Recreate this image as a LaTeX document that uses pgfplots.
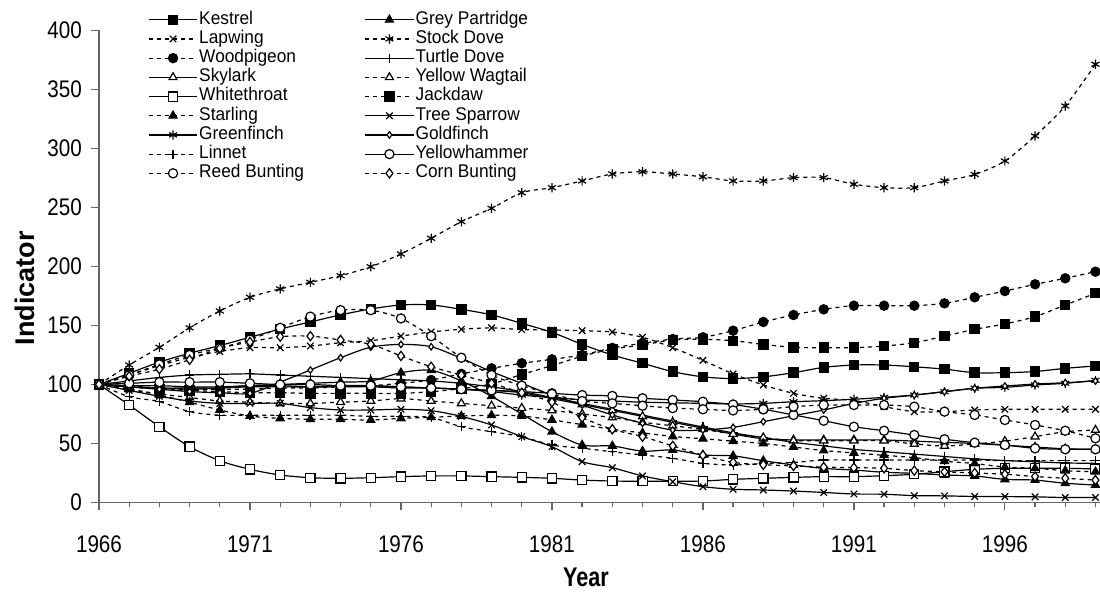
\documentclass[border=0pt]{standalone}
\usepackage{fontspec}
\setmainfont{Liberation Sans}
\usepackage{pgfplots}
\usepackage{pgfplotstable}
\pgfplotsset{compat=1.18}
\usetikzlibrary{plotmarks}

% Farmland bird indicators, 1966 = 100
\pgfplotstableread{
Year K GP La SD WP TD Sk YW WT JD St TS GF Gold Li YH RB CB
1966 100 100 100 100 100 100 100 100 100 100 100 100 100 100 100 100 100 100
1967 109.5 98 108 116.5 99 103 99 96 82.6 98 96 95 98 98 89.7 101 108 107
1968 119 97 116 131.5 97 106 99 92 64.2 96 91 90 97 96 85.5 102 117 113
1969 126.5 96 123 148 96 108 98 89 47.3 95 85 86 97 94 77 102 125 121
1970 133 97 128 162.3 96 108.6 98 86 35.4 94 78.4 84 97 93 74 102 131 130.6
1971 140 99 131.2 173.9 96 109 99 85 28.1 93 73.3 84 98 92.5 74 101 138 136
1972 147 100 131.2 181 97 108 99 84 23.3 93 71.3 84 98 102 74 100 148 140.5
1973 153 101 132.6 186.6 97 107 98 84 21 92.5 70.5 80.4 98 112.3 74 100 157.5 141
1974 159 102 135.4 192.2 98 106 98 85 20.5 92.5 70.5 78.4 99 122.7 74 99 163 137.7
1975 164 103 137.1 199.8 99 105 98 86 21 92.5 69.9 78.4 99 131.6 73 99 163 134
1976 167.4 110 141 210.6 101 104 97 88 21.9 92.5 71.3 79 98 134 73 98 156 124.2
1977 167.4 112 144.5 223.9 103.8 103 97 86 22.5 93.9 72.2 77.8 97 132 72 97 141 115
1978 163.7 103 146.8 238 109 101 96 84 22.5 96.5 73.3 73 96 122.2 64.2 96 122.7 108
1979 159 90 148 249.3 113.7 98 95 82 21.9 100.5 73.9 65.7 94 110.9 60 95 108 101
1980 151.8 75 146.5 262.5 118 94 93 80 21.3 108.5 73.3 55.8 91 101 55.8 94 99 93
1981 144.2 60 146.2 266.8 121.3 89 88 78 20.5 116 70 47.3 89 91 48.7 92.5 92 85
1982 134 48.7 145.6 272.5 125 84 83 75 19 124 66 34.6 87 82.6 46 91 86 72
1983 125 47.9 144.5 278.4 131 79 78 72 18.2 130 62 29.5 86 74.2 43 90.3 84 62
1984 118 43.5 140 280.3 134.9 74 73 68 18 133.5 59 22.5 85 67.1 40.3 88.3 82 55.8
1985 110.9 44.5 131.2 278.4 138.5 69 68 65 18 137.7 56 17.6 84.5 61.4 37.5 86.9 80 48
1986 106.5 40.3 120.5 276 140 64 63 62 18.2 138.3 54 13.4 84 61.4 33.2 85.4 79 40
1987 105 39.5 109 272.5 145.6 59 58 58 19.6 137.1 52 11.2 83.5 63.7 31.8 83 78 34
1988 106.5 35.4 99.6 272.5 153 55 54 55 20.5 134 50 10.6 84 68.5 33 79 79 32
1989 110 31.8 92.5 275.3 158.9 51 53 52.4 21.3 131.5 47 9.7 85.4 73.5 34 74.2 81.2 31
1990 114.5 28.9 88.3 275.3 163.7 48 53 52.4 21.9 131.2 44 8.5 86.3 78.4 36 69.3 82.6 30
1991 116.5 27.5 86.5 269.7 166.8 45 53 52.4 21.9 131.2 42 7.2 87.5 84 36 64.2 82.6 29.5
1992 116.5 25.6 81.2 266.8 166.8 43 53 52.4 22.7 132.6 40 7 89.1 88.3 36 60.8 82.6 29
1993 115 24.7 77 266.8 166.8 41 52 49.6 23.9 135.4 38 5.8 91.1 91 36 57.2 81.2 27
1994 113 23.3 77 272.5 168.8 39 51 47.9 26.1 141 35 5.6 93.9 93.9 36 53.6 77 26
1995 110 22.5 78.4 278 173.9 37 50 49.6 28.1 146.8 33 5.1 96.8 96.8 36 50.7 74.2 25
1996 110 19.6 79 289.4 179.2 35.5 48.5 52 29 151.3 30 5 97.6 98.7 35.5 48.7 69.9 24
1997 111 19 79 310.6 184.9 34.5 47 55.8 29 157.5 29 4.8 99.6 100.4 35.5 45.9 65.7 22
1998 113.7 16.3 79 336 190 33.5 45.5 60 29 167.4 27 4.2 101 101.5 35.5 45.1 60.8 20.5
1999 115.7 14.8 79 371.4 195.6 33.2 45 61.4 28.4 177.3 26 4.2 103.5 103 35.5 45.1 54.4 19
}\birds

\pgfplotsset{
  solidser/.style={black, line width=0.6pt, smooth, tension=0.5, mark size=2.3pt},
  dotser/.style={black, line width=0.6pt, dash pattern=on 2pt off 2pt, smooth, tension=0.5, mark size=2.3pt},
}
% narrow, tall lettering
\newcommand\nar[1]{\scalebox{0.86}[1]{#1}}
\newcommand\lnar[1]{\scalebox{0.94}[1]{#1}}
\newcommand\lb[1]{\makebox[82pt][l]{\lnar{#1}}}

\begin{document}
\begin{tikzpicture}
\useasboundingbox (-49.5pt,-45.75pt) rectangle (500.5pt,251.25pt);
\begin{axis}[
  scale only axis, width=500.5pt, height=236pt,
  xmin=1966, xmax=1999.15, ymin=0, ymax=400,
  axis x line*=bottom, axis y line*=left,
  axis line style={black!60, line width=0.6pt},
  xtick={1966,1971,...,1996},
  minor xtick={1966,...,1999},
  ytick={0,50,...,400},
  tick align=outside,
  major tick length=4pt, minor tick length=2.5pt,
  every tick/.style={black!60, line width=0.6pt},
  /pgf/number format/assume math mode=true,
  xticklabel={\nar{\pgfmathprintnumber[1000 sep={}]{\tick}}},
  yticklabel={\nar{\pgfmathprintnumber{\tick}}},
  tick label style={font=\fontsize{12}{14}\selectfont, black},
  xticklabel style={yshift=-9pt},
  yticklabel style={xshift=-1pt},
  xlabel={\scalebox{0.8}[1]{Year}}, ylabel={Indicator},
  xlabel style={font=\bfseries\fontsize{13.5}{15}\selectfont, at={(axis description cs:0.4865,-0.158)}, anchor=center},
  ylabel style={font=\bfseries\fontsize{13.5}{15}\selectfont, at={(axis description cs:-0.074,0.454)}, anchor=center},
  clip=false,
  legend columns=2,
  legend cell align=left,
  legend style={draw=none, fill=none, inner sep=0pt,
    at={(axis description cs:0.049,1.044)}, anchor=north west,
    font=\fontsize{9.2}{10}\selectfont,
    nodes={inner sep=0.8pt, text height=6.2pt, text depth=1.8pt},
    row sep=0pt},
  legend image code/.code={
    \draw[mark repeat=2, mark phase=2, #1] plot coordinates {(0pt,0pt) (12pt,0pt) (24pt,0pt)};
  },
]
\addplot[solidser, mark=square*, mark options={solid, fill=black}] table[x=Year, y=K]{\birds};
\addlegendentry{\lb{Kestrel}}
\addplot[solidser, mark=triangle*, mark options={solid, fill=black}] table[x=Year, y=GP]{\birds};
\addlegendentry{\lnar{Grey Partridge}}
\addplot[dotser, mark=x, mark options={solid}] table[x=Year, y=La]{\birds};
\addlegendentry{\lb{Lapwing}}
\addplot[dotser, mark=asterisk, mark options={solid}] table[x=Year, y=SD]{\birds};
\addlegendentry{\lnar{Stock Dove}}
\addplot[dotser, mark=*, mark options={solid, fill=black}] table[x=Year, y=WP]{\birds};
\addlegendentry{\lb{Woodpigeon}}
\addplot[solidser, mark=+, mark options={solid}] table[x=Year, y=TD]{\birds};
\addlegendentry{\lnar{Turtle Dove}}
\addplot[solidser, mark=triangle*, mark options={solid, fill=white}] table[x=Year, y=Sk]{\birds};
\addlegendentry{\lb{Skylark}}
\addplot[dotser, mark=triangle*, mark options={solid, fill=white}] table[x=Year, y=YW]{\birds};
\addlegendentry{\lnar{Yellow Wagtail}}
\addplot[solidser, mark=square*, mark options={solid, fill=white}] table[x=Year, y=WT]{\birds};
\addlegendentry{\lb{Whitethroat}}
\addplot[dotser, mark=square*, mark options={solid, fill=black}] table[x=Year, y=JD]{\birds};
\addlegendentry{\lnar{Jackdaw}}
\addplot[dotser, mark=triangle*, mark options={solid, fill=black}] table[x=Year, y=St]{\birds};
\addlegendentry{\lb{Starling}}
\addplot[solidser, mark=x, mark options={solid}] table[x=Year, y=TS]{\birds};
\addlegendentry{\lnar{Tree Sparrow}}
\addplot[solidser, mark=asterisk, mark options={solid}] table[x=Year, y=GF]{\birds};
\addlegendentry{\lb{Greenfinch}}
\addplot[solidser, mark=diamond*, mark options={solid, fill=white, scale=0.7}] table[x=Year, y=Gold]{\birds};
\addlegendentry{\lnar{Goldfinch}}
\addplot[dotser, mark=+, mark options={solid}] table[x=Year, y=Li]{\birds};
\addlegendentry{\lb{Linnet}}
\addplot[solidser, mark=*, mark options={solid, fill=white}] table[x=Year, y=YH]{\birds};
\addlegendentry{\lnar{Yellowhammer}}
\addplot[dotser, mark=*, mark options={solid, fill=white}] table[x=Year, y=RB]{\birds};
\addlegendentry{\lb{Reed Bunting}}
\addplot[dotser, mark=diamond*, mark options={solid, fill=white}] table[x=Year, y=CB]{\birds};
\addlegendentry{\lnar{Corn Bunting}}
\end{axis}
\end{tikzpicture}
\end{document}
